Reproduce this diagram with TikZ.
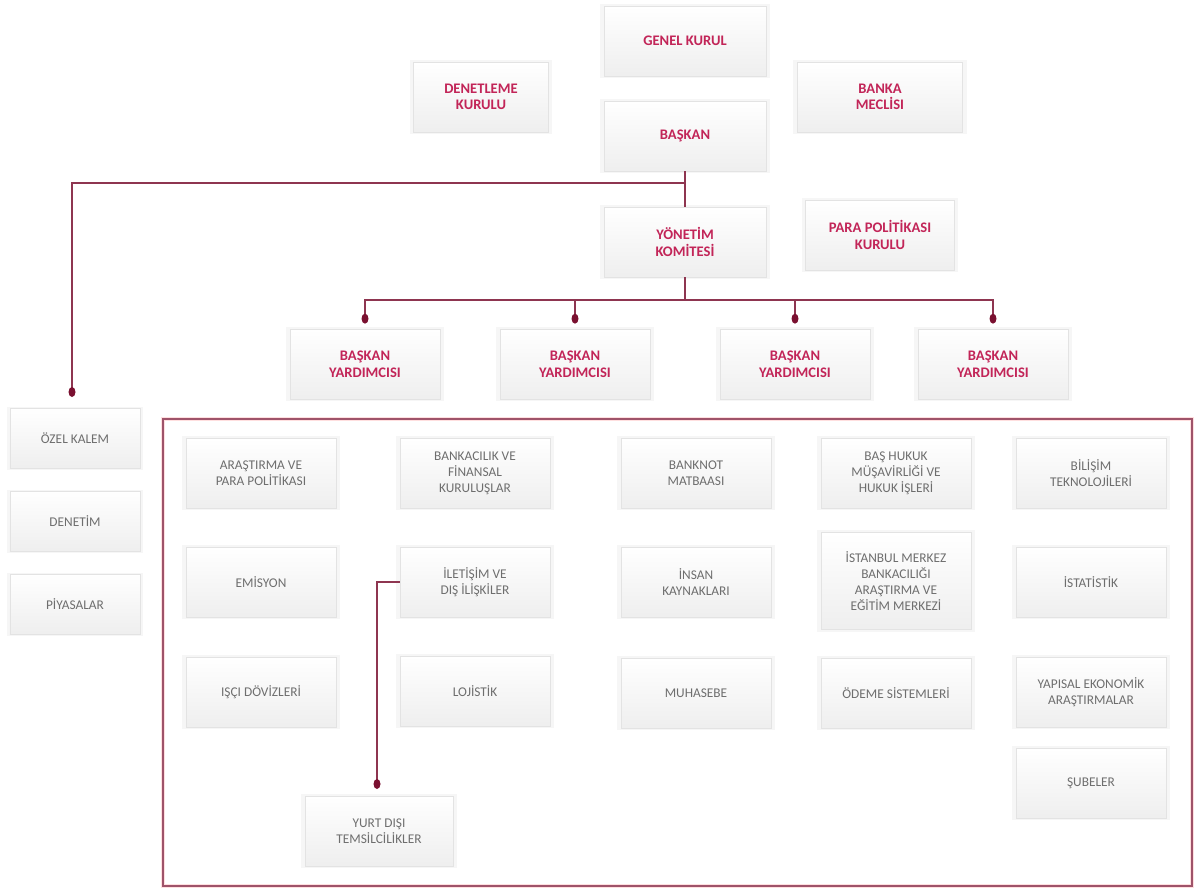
\documentclass[tikz,border=0pt]{standalone}
\usepackage{fontspec}
\setmainfont{Carlito}
\usetikzlibrary{shadows}

\definecolor{kirmizi}{HTML}{C22558}
\definecolor{hat}{HTML}{8E3550}
\definecolor{nokta}{HTML}{7A1030}
\definecolor{yazi}{HTML}{6E6E6E}

\tikzset{
  kutu/.style={draw=gray!22, line width=0.4pt, top color=white, bottom color=gray!13,
    align=center, inner sep=2pt, minimum width=3cm, minimum height=1.4cm,
    general shadow={fill=gray!7, shadow scale=1.05}},
  ust/.style={kutu, text=kirmizi, font=\fontsize{8.3}{9.4}\selectfont\bfseries},
  alt/.style={kutu, text=yazi, font=\fontsize{7.6}{9}\selectfont},
  baglanti/.style={hat, line width=1.1pt},
}

\begin{document}
\begin{tikzpicture}[x=0.2mm, y=-0.2mm]
	\useasboundingbox (0,0) rectangle (1199,894);
	% ust kademe
	\node[ust, minimum width=3.24cm] (genel) at (685,41) {GENEL KURUL};
	\node[ust, minimum width=2.7cm] (denetleme) at (481,97) {DENETLEME\\KURULU};
	\node[ust, minimum width=3.3cm] (meclis) at (880,97) {BANKA\\MECL\.ISI};
	\node[ust, minimum width=3.24cm] (baskan) at (685,136) {BAŞKAN};
	\node[ust, minimum width=3.24cm] (yonetim) at (685,242) {YÖNET\.IM\\KOM\.ITES\.I};
	\node[ust, minimum width=2.98cm] (ppk) at (880,235) {PARA POL\.IT\.IKASI\\KURULU};
	\foreach \i/\x in {1/365,2/575,3/795,4/993}
		\node[ust] (yard\i) at (\x,364) {BAŞKAN\\YARDIMCISI};

	% sol kutular
	\node[alt, minimum width=2.6cm, minimum height=1.2cm] (ozel) at (75,438) {ÖZEL KALEM};
	\node[alt, minimum width=2.6cm, minimum height=1.2cm] (denetim) at (75,521) {DENET\.IM};
	\node[alt, minimum width=2.6cm, minimum height=1.2cm] (piyasa) at (75,604) {P\.IYASALAR};

	% cerceve
	\draw[pink!50, line width=2.4pt] (163,419) rectangle (1192,886);
	\draw[hat!85, line width=1pt] (163,419) rectangle (1192,886);

	% birimler
	\node[alt] (arastirma) at (261,473) {ARAŞTIRMA VE\\PARA POL\.IT\.IKASI};
	\node[alt] (bankacilik) at (475,473) {BANKACILIK VE\\F\.INANSAL\\KURULUŞLAR};
	\node[alt] (banknot) at (696,473) {BANKNOT\\MATBAASI};
	\node[alt] (hukuk) at (896,473) {BAŞ HUKUK\\MÜŞAV\.IRL\.IĞ\.I VE\\HUKUK \.IŞLER\.I};
	\node[alt] (bilisim) at (1091,473) {B\.IL\.IŞ\.IM\\TEKNOLOJ\.ILER\.I};

	\node[alt] (emisyon) at (261,582) {EM\.ISYON};
	\node[alt] (iletisim) at (475,582) {\.ILET\.IŞ\.IM VE\\DIŞ \.IL\.IŞK\.ILER};
	\node[alt] (insan) at (696,582) {\.INSAN\\KAYNAKLARI};
	\node[alt, minimum height=1.94cm] (istanbul) at (896,581) {\.ISTANBUL MERKEZ\\BANKACILIĞI\\ARAŞTIRMA VE\\EĞ\.IT\.IM MERKEZ\.I};
	\node[alt] (istatistik) at (1091,582) {\.ISTAT\.IST\.IK};

	\node[alt] (isci) at (261,692) {IŞÇI DÖV\.IZLER\.I};
	\node[alt] (lojistik) at (475,691) {LOJ\.IST\.IK};
	\node[alt] (muhasebe) at (696,693) {MUHASEBE};
	\node[alt] (odeme) at (896,693) {ÖDEME S\.ISTEMLER\.I};
	\node[alt] (yapisal) at (1091,692) {YAPISAL EKONOM\.IK\\ARAŞTIRMALAR};

	\node[alt] (subeler) at (1091,783) {ŞUBELER};
	\node[alt, minimum width=2.96cm] (yurtdisi) at (379,831) {YURT DIŞI\\TEMS\.ILC\.IL\.IKLER};

	% baglantilar
	\coordinate (kol) at (685,183);
	\coordinate (ozelnok) at (72,392);
	\coordinate (yy) at (685,300);
	\coordinate (ydnok) at (377,784);
	\draw[baglanti] (baskan.south) -- (yonetim.north);
	\draw[baglanti] (kol) -| (ozelnok);
	\fill[nokta] (ozelnok) ellipse (0.07cm and 0.1cm);
	\draw[baglanti] (yonetim.south) -- (yy);
	\foreach \i in {1,...,4}{
		\coordinate (ynok\i) at ([yshift=0.2cm]yard\i.north);
		\draw[baglanti] (yy) -| (ynok\i);
		\fill[nokta] (ynok\i) ellipse (0.07cm and 0.1cm);
	}
	\draw[baglanti] (iletisim.west) -| (ydnok);
	\fill[nokta] (ydnok) ellipse (0.07cm and 0.1cm);
\end{tikzpicture}
\end{document}
